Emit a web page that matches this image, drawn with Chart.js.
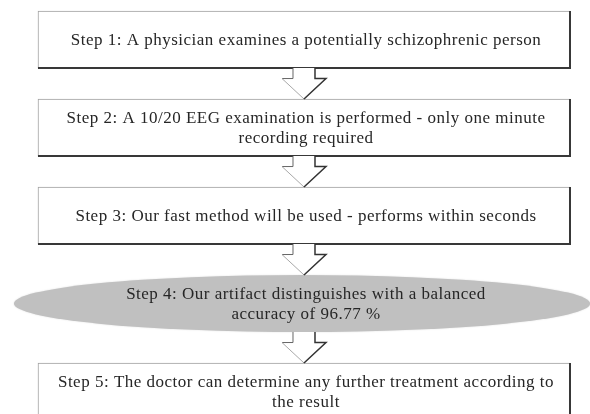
<!DOCTYPE html>
<html>
<head>
<meta charset="utf-8">
<script src="https://cdn.jsdelivr.net/npm/chart.js@4.4.1/dist/chart.umd.min.js"></script>
<style>
  html, body { margin: 0; padding: 0; background: #ffffff; }
  #wrap { width: 590px; height: 414px; position: relative; }
</style>
</head>
<body>
<div id="wrap"><canvas id="flow"></canvas></div>
<script>
// steps of the flow, top to bottom
const stepOrder = [1, 2, 3, 4, 5];
const stepLines = [
  ["Step 1: A physician examines a potentially schizophrenic person"],
  ["Step 2: A 10/20 EEG examination is performed - only one minute", "recording required"],
  ["Step 3: Our fast method will be used - performs within seconds"],
  ["Step 4: Our artifact distinguishes with a balanced", "accuracy of 96.77 %"],
  ["Step 5: The doctor can determine any further treatment according to", "the result"],
];
const stepShape = ["box", "box", "box", "ellipse", "box"];
// every step spans the whole process width (0..100)
const stepSpan = [[0, 100], [0, 100], [0, 100], [0, 100], [0, 100]];

const FONT = '17px "Liberation Serif", "Times New Roman", serif';

const flowPlugin = {
  id: "flowPlugin",
  afterDatasetsDraw(chart) {
    const ctx = chart.ctx;
    const meta = chart.getDatasetMeta(0);
    const boxes = meta.data.map((el) => {
      const p = el.getProps(["x", "y", "base", "height"], true);
      const left = Math.min(p.x, p.base);
      const right = Math.max(p.x, p.base);
      return { left, right, cx: (left + right) / 2, cy: p.y, top: p.y - p.height / 2, bottom: p.y + p.height / 2, h: p.height };
    });

    ctx.save();
    boxes.forEach((b, i) => {
      if (stepShape[i] === "ellipse") {
        const rx = (b.right - b.left) / 2 * 1.083;
        ctx.beginPath();
        ctx.ellipse(b.cx - 2, b.cy, rx, b.h / 2, 0, 0, Math.PI * 2);
        ctx.fillStyle = "#c0c0c0";
        ctx.shadowColor = "rgba(0,0,0,0.12)";
        ctx.shadowBlur = 2;
        ctx.fill();
        ctx.shadowColor = "transparent";
        ctx.shadowBlur = 0;
      } else {
        // darker right / bottom edge
        ctx.beginPath();
        ctx.moveTo(b.right, b.top);
        ctx.lineTo(b.right, b.bottom);
        ctx.lineTo(b.left, b.bottom);
        ctx.strokeStyle = "#383838";
        ctx.lineWidth = 2;
        ctx.stroke();
      }
    });

    // block arrows between steps
    for (let i = 0; i < boxes.length - 1; i++) {
      const a = boxes[i], n = boxes[i + 1];
      const y0 = a.bottom, y1 = n.top;
      const hb = y1 - (y1 - y0) * 0.66;
      const cx = a.cx;
      ctx.beginPath();
      ctx.moveTo(cx - 11, y0); ctx.lineTo(cx - 11, hb); ctx.lineTo(cx - 22, hb);
      ctx.lineTo(cx, y1); ctx.lineTo(cx + 22, hb); ctx.lineTo(cx + 11, hb); ctx.lineTo(cx + 11, y0);
      ctx.closePath();
      ctx.fillStyle = "#ffffff";
      ctx.fill();

      ctx.lineWidth = 1;
      ctx.strokeStyle = "#666";
      ctx.beginPath();
      ctx.moveTo(cx - 11, y0); ctx.lineTo(cx - 11, hb); ctx.lineTo(cx - 22, hb);
      ctx.stroke();
      ctx.strokeStyle = "#a8a8a8";
      ctx.beginPath();
      ctx.moveTo(cx - 22, hb); ctx.lineTo(cx, y1);
      ctx.stroke();
      ctx.strokeStyle = "#333";
      ctx.lineWidth = 1.5;
      ctx.beginPath();
      ctx.moveTo(cx, y1); ctx.lineTo(cx + 22, hb); ctx.lineTo(cx + 11, hb); ctx.lineTo(cx + 11, y0);
      ctx.stroke();
    }

    // step texts
    ctx.font = FONT;
    ctx.letterSpacing = "0.5px";
    ctx.fillStyle = "#262626";
    ctx.textAlign = "center";
    ctx.textBaseline = "middle";
    const lh = 20;
    boxes.forEach((b, i) => {
      const lines = stepLines[i];
      const y0 = b.cy - (lines.length - 1) * lh / 2;
      lines.forEach((t, k) => ctx.fillText(t, b.cx + 2, y0 + k * lh + 1));
    });
    ctx.restore();
  },
};

new Chart(document.getElementById("flow"), {
  type: "bar",
  data: {
    datasets: [{
      data: stepOrder.map((s, i) => ({ y: s, x: stepSpan[i] })),
      backgroundColor: stepShape.map((s) => (s === "box" ? "#ffffff" : "rgba(0,0,0,0)")),
      borderColor: stepShape.map((s) => (s === "box" ? "#a0a0a0" : "rgba(0,0,0,0)")),
      borderWidth: stepShape.map((s) => (s === "box" ? 1 : 0)),
      borderSkipped: false,
      barThickness: 57,
    }],
  },
  options: {
    indexAxis: "y",
    responsive: true,
    maintainAspectRatio: false,
    animation: false,
    layout: { padding: 0 },
    scales: {
      x: { type: "linear", min: -7.14, max: 103.76, display: false },
      y: { type: "linear", min: 0.551, max: 5.256, reverse: true, offset: false, display: false },
    },
    plugins: {
      legend: { display: false },
      tooltip: { enabled: false },
    },
  },
  plugins: [flowPlugin],
});
</script>
</body>
</html>
